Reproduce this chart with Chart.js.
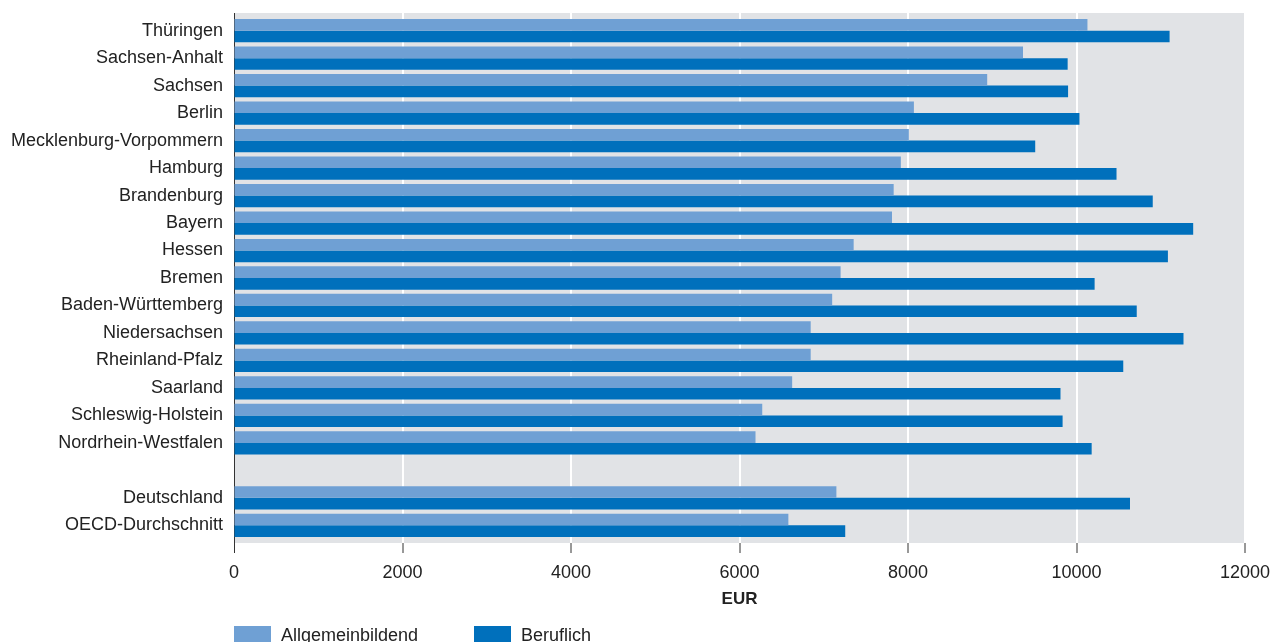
<!DOCTYPE html>
<html>
<head>
<meta charset="utf-8">
<script src="https://cdn.jsdelivr.net/npm/chart.js@4/dist/chart.umd.min.js"></script>
<style>
    body { margin: 0; background: #fff; font-family: "Liberation Sans", Arial, sans-serif; }
    #wrap { position: relative; width: 1272px; height: 642px; overflow: hidden; }
    #legend { position: absolute; left: 234px; top: 625px; display: flex; font-size: 18px; color: #222; }
    .item { display: flex; align-items: flex-start; }
    .box { width: 37px; height: 16px; margin-right: 10px; margin-top: 1px; }
</style>
</head>
<body>
<div id="wrap">
    <canvas id="chart" width="1272" height="642"></canvas>
    <div id="legend"></div>
</div>
<script>
// ===== Données =====
const categories = [
    "Thüringen", "Sachsen-Anhalt", "Sachsen", "Berlin", "Mecklenburg-Vorpommern",
    "Hamburg", "Brandenburg", "Bayern", "Hessen", "Bremen", "Baden-Württemberg",
    "Niedersachsen", "Rheinland-Pfalz", "Saarland", "Schleswig-Holstein",
    "Nordrhein-Westfalen", "", "Deutschland", "OECD-Durchschnitt"
];
const allgemeinbildend = [10130, 9365, 8940, 8070, 8010, 7915, 7830, 7810, 7355, 7200, 7100,
    6845, 6845, 6625, 6270, 6190, null, 7150, 6580];
const beruflich = [11105, 9895, 9900, 10035, 9510, 10475, 10905, 11385, 11085, 10215, 10715,
    11270, 10555, 9810, 9835, 10180, null, 10635, 7255];
const xTicks = { min: 0, max: 12000, step: 2000 };
const seriesNames = ["Allgemeinbildend", "Beruflich"];
const seriesColors = ["#6fa0d4", "#0070bc"];

const FONT = "'Liberation Sans', Arial, sans-serif";
const TEXT = "#222";

// points {x, y} pour l'axe d'index linéaire
function toPoints(values) {
    return values
        .map((v, i) => ({ x: v, y: i }))
        .filter(p => p.x !== null);
}

// fond gris de la zone de tracé
const plotBackground = {
    id: "plotBackground",
    beforeDraw(chart) {
        const { ctx, chartArea: a } = chart;
        ctx.save();
        ctx.fillStyle = "#e1e3e6";
        ctx.fillRect(a.left, a.top, a.right - a.left, a.bottom - a.top);
        ctx.restore();
    }
};

new Chart(document.getElementById("chart"), {
    type: "bar",
    data: {
        datasets: [
            { label: seriesNames[0], data: toPoints(allgemeinbildend), backgroundColor: seriesColors[0] },
            { label: seriesNames[1], data: toPoints(beruflich), backgroundColor: seriesColors[1] }
        ]
    },
    options: {
        indexAxis: "y",
        responsive: false,
        animation: false,
        categoryPercentage: 0.847,
        barPercentage: 1,
        layout: { padding: { top: 13, right: 27, bottom: 32, left: 0 } },
        plugins: { legend: { display: false }, tooltip: { enabled: false } },
        scales: {
            x: {
                type: "linear",
                min: xTicks.min,
                max: xTicks.max,
                afterFit: scale => { scale.paddingLeft = 0; scale.paddingRight = 0; },
                ticks: {
                    stepSize: xTicks.step,
                    color: TEXT,
                    font: { family: FONT, size: 18 },
                    padding: 9,
                    callback: v => String(v)
                },
                grid: {
                    color: ctx => ctx.tick && ctx.tick.value === 0 ? "#333" : "#ffffff",
                    lineWidth: ctx => ctx.tick && ctx.tick.value === 0 ? 1 : 2,
                    tickColor: "#333",
                    tickWidth: 1,
                    tickLength: 10
                },
                border: { display: false },
                title: {
                    display: true,
                    text: "EUR",
                    color: TEXT,
                    font: { family: FONT, size: 17, weight: "bold" },
                    padding: { top: -3, bottom: 0 }
                }
            },
            y: {
                type: "linear",
                reverse: true,
                offset: false,
                bounds: "data",
                min: -0.642,
                max: categories.length - 1 + 0.642,
                afterBuildTicks: scale => {
                    scale.ticks = categories.map((c, i) => ({ value: i }));
                },
                afterFit: scale => {
                    scale.width = 234;
                    scale.paddingTop = 0;
                    scale.paddingBottom = 0;
                },
                ticks: {
                    autoSkip: false,
                    color: TEXT,
                    padding: 11,
                    font: { family: FONT, size: 18 },
                    callback: v => categories[v] !== undefined ? categories[v] : ""
                },
                grid: { display: false, drawTicks: false, offset: false },
                border: { display: true, color: "#333", width: 1 }
            }
        }
    },
    plugins: [plotBackground]
});

// ===== Légende =====
const legend = document.getElementById("legend");
seriesNames.forEach((name, i) => {
    const item = document.createElement("div");
    item.className = "item";
    item.style.width = i === 0 ? "240px" : "auto";
    item.innerHTML = `<span class="box" style="background:${seriesColors[i]}"></span><span>${name}</span>`;
    legend.appendChild(item);
});
</script>
</body>
</html>
